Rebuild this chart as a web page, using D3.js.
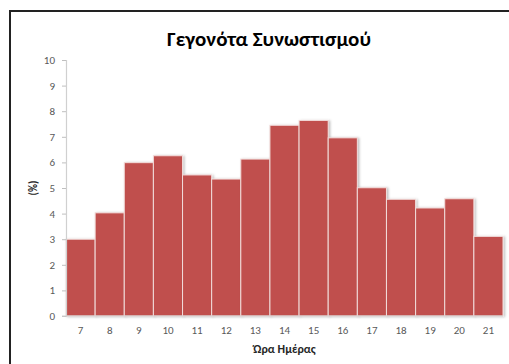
<!DOCTYPE html>
<html>
<head>
<meta charset="utf-8">
<script src="https://cdn.jsdelivr.net/npm/d3@7"></script>
<style>
  html, body { margin: 0; padding: 0; background: #fff; }
  svg { display: block; }
</style>
</head>
<body>
<svg id="chart" width="509" height="364"></svg>
<script>
// Hour of day and share of crowding events (%)
const hours = [7, 8, 9, 10, 11, 12, 13, 14, 15, 16, 17, 18, 19, 20, 21];
const shares = [3.0, 4.03, 5.99, 6.26, 5.51, 5.35, 6.13, 7.45, 7.64, 6.96, 5.01, 4.56, 4.22, 4.58, 3.11];
const yTicks = [0, 1, 2, 3, 4, 5, 6, 7, 8, 9, 10];

const title = "Γεγονότα Συνωστισμού";
const xTitle = "Ώρα Ημέρας";
const yTitle = "(%)";

const svg = d3.select("#chart");
const W = 509, H = 364;
const margin = { left: 66, right: 6, top: 60, bottom: 48 };
const plotW = W - margin.left - margin.right;
const plotH = H - margin.top - margin.bottom;

const fontFamily = "Carlito, 'Open Sans', 'Liberation Sans', sans-serif";
const textGrey = "#595959";

// Outer chart frame
svg.append("rect")
  .attr("x", 10).attr("y", 11)
  .attr("width", 520).attr("height", 380)
  .attr("fill", "none")
  .attr("stroke", "#222")
  .attr("stroke-width", 2);

// Soft shadow behind bars
const defs = svg.append("defs");
const f = defs.append("filter").attr("id", "barShadow")
  .attr("x", "-10%").attr("y", "-10%").attr("width", "130%").attr("height", "130%");
f.append("feDropShadow")
  .attr("dx", 1.5).attr("dy", 0.5).attr("stdDeviation", 0.8)
  .attr("flood-color", "#000").attr("flood-opacity", 0.25);

const x = d3.scaleBand().domain(hours).range([0, plotW]).padding(0);
const y = d3.scaleLinear().domain([0, 10]).range([plotH, 0]);

const g = svg.append("g").attr("transform", `translate(${margin.left},${margin.top})`);

// Bars
g.append("g").selectAll("rect")
  .data(hours.map((h, i) => ({ h, v: shares[i] })))
  .join("rect")
  .attr("x", d => x(d.h))
  .attr("y", d => y(d.v))
  .attr("width", x.bandwidth())
  .attr("height", d => plotH - y(d.v))
  .attr("fill", "#C0504D")
  .attr("stroke", "#F2DCDB")
  .attr("stroke-width", 1)
  .attr("filter", "url(#barShadow)");

// Y axis
const yAxis = g.append("g")
  .call(d3.axisLeft(y).tickValues(yTicks).tickSize(4).tickPadding(7).tickFormat(d3.format("d")));
yAxis.select(".domain").attr("stroke", "#D0D0D0").attr("stroke-width", 1.2);
yAxis.selectAll(".tick line").attr("stroke", "#BFBFBF");
yAxis.selectAll(".tick text")
  .attr("fill", textGrey)
  .style("font-family", fontFamily)
  .style("font-size", "11px");

// X axis
const xAxis = g.append("g")
  .attr("transform", `translate(0,${plotH})`)
  .call(d3.axisBottom(x).tickSize(0).tickPadding(10));
xAxis.select(".domain").attr("stroke", "#D0D0D0").attr("stroke-width", 1.2)
  .attr("d", `M-4,0H${plotW}`);
xAxis.selectAll(".tick text")
  .attr("fill", textGrey)
  .style("font-family", fontFamily)
  .style("font-size", "11px");

// Title
svg.append("text")
  .attr("x", 269).attr("y", 46)
  .attr("text-anchor", "middle")
  .attr("fill", "#000")
  .style("font-family", fontFamily)
  .style("font-weight", "bold")
  .style("font-size", "21px")
  .text(title);

// Axis titles
svg.append("text")
  .attr("x", margin.left + plotW / 2).attr("y", 353)
  .attr("text-anchor", "middle")
  .attr("fill", "#262626")
  .style("font-family", fontFamily)
  .style("font-weight", "bold")
  .style("font-size", "12px")
  .text(xTitle);

svg.append("text")
  .attr("transform", "translate(37,188) rotate(-90)")
  .attr("text-anchor", "middle")
  .attr("fill", "#262626")
  .style("font-family", fontFamily)
  .style("font-weight", "bold")
  .style("font-size", "11px")
  .text(yTitle);
</script>
</body>
</html>
